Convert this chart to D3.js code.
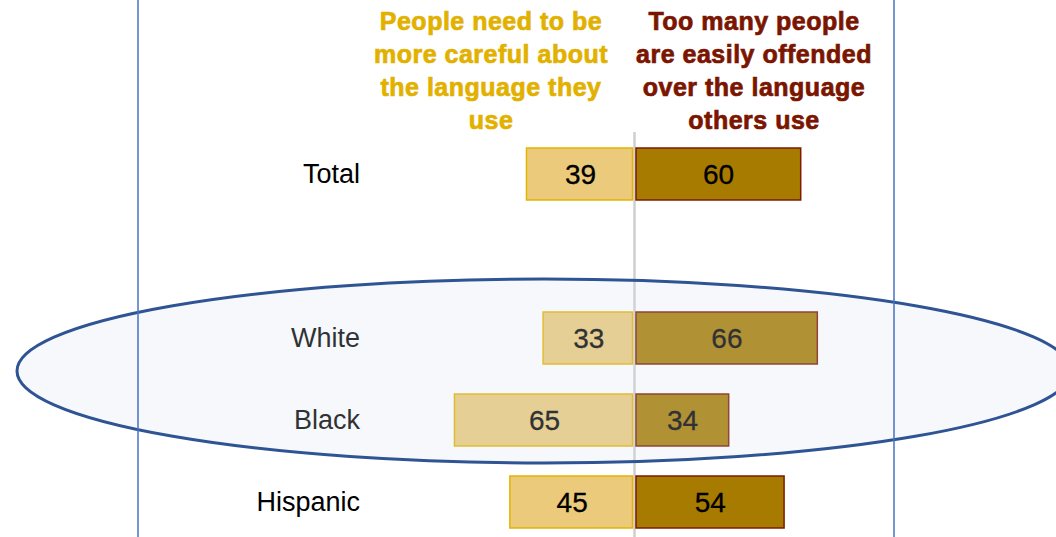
<!DOCTYPE html>
<html>
<head>
<meta charset="utf-8">
<script src="https://cdn.jsdelivr.net/npm/d3@7"></script>
<style>
  html, body { margin: 0; padding: 0; background: #ffffff; }
  svg { display: block; }
  text { font-family: "Liberation Sans", Arial, sans-serif; }
</style>
</head>
<body>
<svg id="chart" width="1056" height="537"></svg>
<script>
// Survey groups (a blank slot separates Total from the race groups)
const rows = ["Total", "spacer", "White", "Black", "Hispanic"];
const groups = ["Total", "White", "Black", "Hispanic"];
const careful = [39, 33, 65, 45];     // People need to be more careful about the language they use
const offended = [60, 66, 34, 54];    // Too many people are easily offended over the language others use
const headerLeft = ["People need to be", "more careful about", "the language they", "use"];
const headerRight = ["Too many people", "are easily offended", "over the language", "others use"];
const highlighted = ["White", "Black"];

const W = 1056, H = 537;
const center = 634.5;
const svg = d3.select("#chart");

const x = d3.scaleLinear().domain([-100, 100]).range([center - 277, center + 277]);
const y = d3.scaleBand().domain(rows).range([133, 543]).paddingInner(0.366).paddingOuter(0.183);

const data = groups.map((g, i) => ({ group: g, careful: careful[i], offended: offended[i] }));

// Column headers (heavy weight via a thin same-colour outline)
const hdr = svg.append("g");
[[headerLeft, 491, "#e2b100"], [headerRight, 754, "#7a1500"]].forEach(([lines, cx, col]) => {
  hdr.selectAll(null).data(lines).enter().append("text")
    .attr("x", cx)
    .attr("y", (d, i) => 30 + i * 33)
    .attr("text-anchor", "middle")
    .attr("fill", col)
    .attr("stroke", col)
    .attr("stroke-width", 0.7)
    .attr("font-size", 25)
    .attr("font-weight", "bold")
    .attr("letter-spacing", 0.5)
    .text(d => d);
});

// Center divider
svg.append("line")
  .attr("x1", center).attr("x2", center)
  .attr("y1", 132).attr("y2", H)
  .attr("stroke", "#cfcfcf").attr("stroke-width", 2.5);

// Bars
const g = svg.append("g");
g.selectAll("rect.left").data(data).enter().append("rect")
  .attr("class", "left")
  .attr("x", d => x(-d.careful))
  .attr("y", d => y(d.group))
  .attr("width", d => x(0) - x(-d.careful) - 2)
  .attr("height", y.bandwidth())
  .attr("fill", "#ebcb7b")
  .attr("stroke", "#e3b400")
  .attr("stroke-width", 1.5);

g.selectAll("rect.right").data(data).enter().append("rect")
  .attr("class", "right")
  .attr("x", x(0) + 1.5)
  .attr("y", d => y(d.group))
  .attr("width", d => x(d.offended) - x(0) - 1.5)
  .attr("height", y.bandwidth())
  .attr("fill", "#a67b00")
  .attr("stroke", "#7e1a00")
  .attr("stroke-width", 1.5);

// Value labels
g.selectAll("text.lv").data(data).enter().append("text")
  .attr("x", d => (x(-d.careful) + x(0)) / 2)
  .attr("y", d => y(d.group) + y.bandwidth() / 2 + 10)
  .attr("text-anchor", "middle")
  .attr("font-size", 28)
  .attr("fill", "#000")
  .attr("stroke", "#000").attr("stroke-width", 0.3)
  .text(d => d.careful);

g.selectAll("text.rv").data(data).enter().append("text")
  .attr("x", d => (x(d.offended) + x(0)) / 2 + 1)
  .attr("y", d => y(d.group) + y.bandwidth() / 2 + 10)
  .attr("text-anchor", "middle")
  .attr("font-size", 28)
  .attr("fill", "#000")
  .attr("stroke", "#000").attr("stroke-width", 0.3)
  .text(d => d.offended);

// Group labels
g.selectAll("text.cat").data(data).enter().append("text")
  .attr("x", 360)
  .attr("y", d => y(d.group) + y.bandwidth() / 2 + 9)
  .attr("text-anchor", "end")
  .attr("font-size", 27)
  .attr("fill", "#000")
  .text(d => d.group);

// Highlight ellipse around the White and Black rows
const hiTop = y(highlighted[0]);
const hiBot = y(highlighted[1]) + y.bandwidth();
const ecy = (hiTop + hiBot) / 2 - 8;
svg.append("ellipse")
  .attr("cx", 544).attr("cy", ecy)
  .attr("rx", 527).attr("ry", 92)
  .attr("fill", "rgb(212,224,238)").attr("fill-opacity", 0.22)
  .attr("stroke", "#2e5494").attr("stroke-width", 3);

// Frame lines
[138, 894].forEach(px => {
  svg.append("line")
    .attr("x1", px).attr("x2", px)
    .attr("y1", 0).attr("y2", H)
    .attr("stroke", "#4472c4").attr("stroke-width", 1.5);
});
</script>
</body>
</html>
